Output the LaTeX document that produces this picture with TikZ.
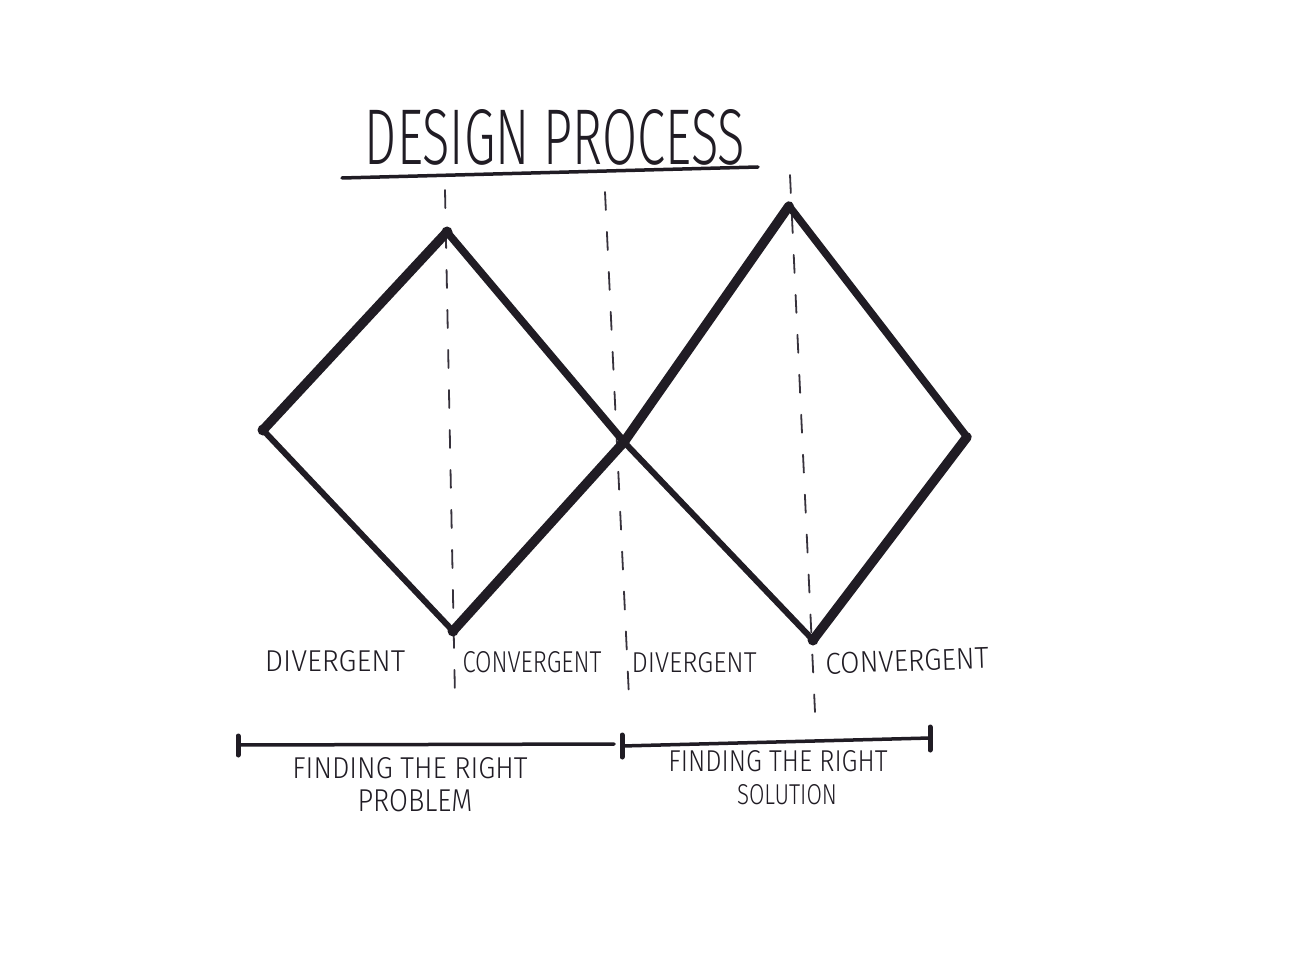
\documentclass[tikz,border=0pt]{standalone}
\usepackage{fontspec}
\usepackage{graphicx}
\newfontfamily\handfont{Fira Sans Light}
\definecolor{ink}{RGB}{32,28,36}
\definecolor{dashink}{RGB}{55,50,60}
\newcommand{\hw}[3]{\resizebox{#1pt}{#2pt}{\handfont #3}}
\tikzset{
  edgeA/.style={draw=ink,line width=9.5pt,line cap=round,line join=round},
  edgeB/.style={draw=ink,line width=7.5pt,line cap=round,line join=round},
  edgeC/.style={draw=ink,line width=6pt,line cap=round,line join=round},
  guide/.style={draw=dashink,line width=1.8pt,dash pattern=on 18pt off 22pt,line cap=round},
  bar/.style={draw=ink,line width=3.5pt,line cap=round},
  tickmark/.style={draw=ink,line width=5pt,line cap=round},
  label/.style={inner sep=0pt,anchor=center,text=ink},
  vdot/.style={fill=ink}
}
\begin{document}
\begin{tikzpicture}[x=1pt,y=-1pt]
\fill[white] (0,0) rectangle (1314,968);
\useasboundingbox (0,0) rectangle (1314,968);
% title
\node[label] (title) at (555,137) {\hw{380}{55}{DESIGN PROCESS}};
\coordinate (ulA) at (342,178);
\coordinate (ulB) at (758,167);
\draw[bar] (ulA) -- (ulB);
% guides
\coordinate (g1a) at (445,190); \coordinate (g1b) at (455,697);
\coordinate (g2a) at (605,192); \coordinate (g2b) at (629,697);
\coordinate (g3a) at (790,175); \coordinate (g3b) at (815,712);
\draw[guide] (g1a) -- (g1b);
\draw[guide] (g2a) -- (g2b);
\draw[guide] (g3a) -- (g3b);
% diamonds
\coordinate (L) at (263,430);
\coordinate (T1) at (447,232);
\coordinate (B1) at (453,631);
\coordinate (X) at (624,442);
\coordinate (T2) at (789,206);
\coordinate (R) at (967,437);
\coordinate (B2) at (813,640);
\draw[edgeA] (L) -- (T1);
\draw[edgeB] (T1) -- (X);
\draw[edgeC] (L) -- (B1);
\draw[edgeA] (B1) -- (X);
\draw[edgeA] (X) -- (T2);
\draw[edgeB] (T2) -- (R);
\draw[edgeA] (R) -- (B2);
\draw[edgeC] (B2) -- (X);
\foreach \p in {L,T1,B1,X,B2} \fill[vdot] (\p) circle (5.5pt);
% phase labels
\node[label] (div1) at (335,661) {\hw{140}{21}{DIVERGENT}};
\node[label] (con1) at (532,662) {\hw{139}{21}{CONVERGENT}};
\node[label] (div2) at (694,663) {\hw{125}{20}{DIVERGENT}};
\node[label,rotate=2] (con2) at (907,661) {\hw{163}{21}{CONVERGENT}};
% brackets
\coordinate (b1a) at (238,745); \coordinate (b1b) at (614,744);
\coordinate (b2a) at (622,746); \coordinate (b2b) at (930,738);
\draw[bar] (b1a) -- (b1b);
\draw[bar] (b2a) -- (b2b);
\coordinate (k1a) at (238,736); \coordinate (k1b) at (238,755);
\coordinate (k2a) at (622,735); \coordinate (k2b) at (622,757);
\coordinate (k3a) at (930,727); \coordinate (k3b) at (930,750);
\draw[tickmark] (k1a) -- (k1b);
\draw[tickmark] (k2a) -- (k2b);
\draw[tickmark] (k3a) -- (k3b);
% bracket labels
\node[label] (p1) at (410,768) {\hw{235}{21}{FINDING THE RIGHT}};
\node[label] (p2) at (415,801) {\hw{115}{22}{PROBLEM}};
\node[label] (s1) at (778,761) {\hw{219}{21}{FINDING THE RIGHT}};
\node[label] (s2) at (787,795) {\hw{100}{20}{SOLUTION}};
\end{tikzpicture}
\end{document}
